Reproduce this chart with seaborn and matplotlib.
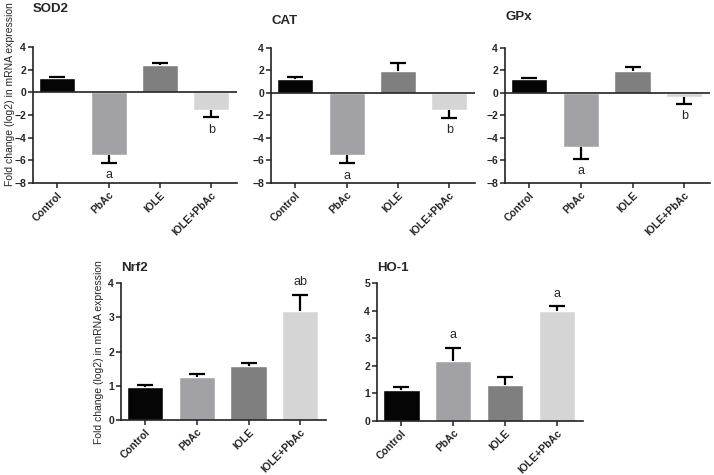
import numpy as np
import pandas as pd
import matplotlib
matplotlib.use("Agg")
import matplotlib.pyplot as plt
import seaborn as sns

groups = ["Control", "PbAc", "IOLE", "IOLE+PbAc"]
bar_colors = ["#050505", "#a2a2a6", "#7f7f7f", "#d5d5d5"]

# mean and one-sided error (away from zero) for every gene
sod2_mean = [1.25, -5.55, 2.38, -1.53]
sod2_err = [0.12, 0.68, 0.25, 0.65]
sod2_sig = ["", "a", "", "b"]

cat_mean = [1.22, -5.56, 1.94, -1.53]
cat_err = [0.17, 0.68, 0.70, 0.67]
cat_sig = ["", "a", "", "b"]

gpx_mean = [1.18, -4.80, 1.91, -0.38]
gpx_err = [0.13, 1.05, 0.32, 0.62]
gpx_sig = ["", "a", "", "b"]

nrf2_mean = [0.96, 1.27, 1.58, 3.19]
nrf2_err = [0.06, 0.06, 0.07, 0.47]
nrf2_sig = ["", "", "", "ab"]

ho1_mean = [1.11, 2.18, 1.32, 3.97]
ho1_err = [0.14, 0.47, 0.27, 0.19]
ho1_sig = ["", "a", "", "a"]

sns.set_theme(style="ticks")
plt.rcParams['font.family'] = ['Liberation Sans', 'DejaVu Sans']

W, H = 714, 475
fig = plt.figure(figsize=(W / 100, H / 100), dpi=100)


def px_axes(x0, x1, y0, y1):
    return fig.add_axes([x0 / W, 1 - y1 / H, (x1 - x0) / W, (y1 - y0) / H])


def panel(ax, title, mean, err, sig, ylim, yticks, title_y):
    df = pd.DataFrame({"group": groups, "value": mean})
    sns.barplot(data=df, x="group", y="value", hue="group", palette=bar_colors,
                width=0.7, legend=False, ax=ax, saturation=1, errorbar=None)
    pos = np.arange(len(groups))
    m = np.array(mean)
    tip = m + np.sign(m) * np.array(err)
    # one-sided error bars: stem from bar end, cap only at the tip
    ax.vlines(pos, m, tip, color="black", lw=1.6, zorder=3)
    ax.plot(pos, tip, ls="none", marker="_", ms=12, mew=1.6, color="black", zorder=3)
    for i, s in enumerate(sig):
        if not s:
            continue
        off = 9 if m[i] >= 0 else -9
        ax.annotate(s, xy=(i, tip[i]), xytext=(0, off), textcoords="offset points",
                    ha="center", va="center", fontsize=9)
    ax.set_xlim(-0.47, 3.5)
    ax.set_ylim(*ylim)
    ax.set_yticks(yticks)
    if ylim[0] < 0:
        ax.axhline(0, color="#222222", lw=1.2, zorder=4)
    ax.set_xlabel("")
    ax.set_ylabel("")
    sns.despine(ax=ax)
    for sp in ["left", "bottom"]:
        ax.spines[sp].set_linewidth(1.2)
        ax.spines[sp].set_color("#222222")
    ax.tick_params(axis="both", length=3.5, width=1.1, pad=1.5, color="#222222")
    ax.set_xticks(pos)
    ax.set_xticklabels(groups, rotation=45, ha="right", rotation_mode="anchor",
                       fontsize=7.5, fontweight="bold")
    for lab in ax.get_yticklabels():
        lab.set_fontsize(7.5)
        lab.set_fontweight("bold")
    ax.text(0, 1 + title_y, title, transform=ax.transAxes, ha="left",
            va="center", fontsize=9.5, fontweight="bold")


ax1 = px_axes(33, 237, 47, 183)
panel(ax1, "SOD2", sod2_mean, sod2_err, sod2_sig, (-8, 4), [4, 2, 0, -2, -4, -6, -8], 38 / 136)
ax2 = px_axes(271, 475, 47.5, 183)
panel(ax2, "CAT", cat_mean, cat_err, cat_sig, (-8, 4), [4, 2, 0, -2, -4, -6, -8], 27 / 136)
ax3 = px_axes(505, 710, 47.5, 183)
panel(ax3, "GPx", gpx_mean, gpx_err, gpx_sig, (-8, 4), [4, 2, 0, -2, -4, -6, -8], 31 / 136)
ax4 = px_axes(121, 326, 283, 420)
panel(ax4, "Nrf2", nrf2_mean, nrf2_err, nrf2_sig, (0, 4), [0, 1, 2, 3, 4], 15 / 137)
ax5 = px_axes(377, 583, 283, 421)
panel(ax5, "HO-1", ho1_mean, ho1_err, ho1_sig, (0, 5), [0, 1, 2, 3, 4, 5], 15 / 138)

ylab = "Fold change (log2) in mRNA expression"
fig.text(10 / W, 1 - 94 / H, ylab, rotation=90, ha="center", va="center", fontsize=7.5)
fig.text(99 / W, 1 - 352 / H, ylab, rotation=90, ha="center", va="center", fontsize=7.5)

fig.savefig("out.png", dpi=100)
